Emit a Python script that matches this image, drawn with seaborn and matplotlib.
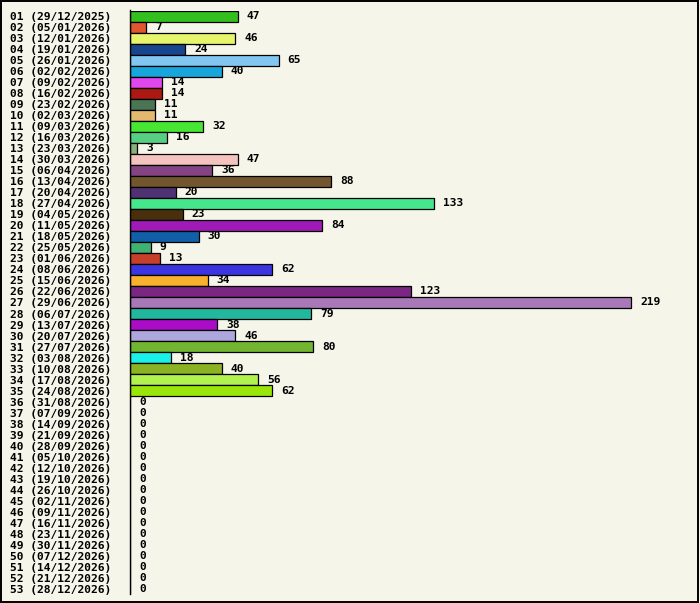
import matplotlib
matplotlib.use('Agg')
import matplotlib.pyplot as plt
import matplotlib.patches as mpatches
import seaborn as sns
import pandas as pd

# Week numbers and their starting dates
weeks = ['29/12/2025', '05/01/2026', '12/01/2026', '19/01/2026', '26/01/2026', '02/02/2026',
         '09/02/2026', '16/02/2026', '23/02/2026', '02/03/2026', '09/03/2026', '16/03/2026',
         '23/03/2026', '30/03/2026', '06/04/2026', '13/04/2026', '20/04/2026', '27/04/2026',
         '04/05/2026', '11/05/2026', '18/05/2026', '25/05/2026', '01/06/2026', '08/06/2026',
         '15/06/2026', '22/06/2026', '29/06/2026', '06/07/2026', '13/07/2026', '20/07/2026',
         '27/07/2026', '03/08/2026', '10/08/2026', '17/08/2026', '24/08/2026', '31/08/2026',
         '07/09/2026', '14/09/2026', '21/09/2026', '28/09/2026', '05/10/2026', '12/10/2026',
         '19/10/2026', '26/10/2026', '02/11/2026', '09/11/2026', '16/11/2026', '23/11/2026',
         '30/11/2026', '07/12/2026', '14/12/2026', '21/12/2026', '28/12/2026']
counts = [47, 7, 46, 24, 65, 40, 14, 14, 11, 11, 32, 16, 3, 47, 36, 88, 20, 133,
          23, 84, 30, 9, 13, 62, 34, 123, 219, 79, 38, 46, 80, 18, 40, 56, 62] + [0] * 18
bar_colors = ['#33c01f', '#e0562f', '#e6f56b', '#17468f', '#82c6f2', '#16a6dc',
              '#e048ee', '#ac1812', '#4a7555', '#e4b96d', '#46e632', '#56cf83',
              '#8aae7b', '#f4c3bd', '#844484', '#74562e', '#4f3274', '#45e68c',
              '#4a2f0c', '#a01ab7', '#115fa8', '#40b173', '#c53f2a', '#3c34e0',
              '#f8b02d', '#7b2682', '#a978b9', '#22b89e', '#ab0cc6', '#aea7de',
              '#71b531', '#19f0e8', '#8bb223', '#b2f250', '#9be60a'] + ['#888888'] * 18

labels = [f'{i + 1:02d} ({d})' for i, d in enumerate(weeks)]
df = pd.DataFrame({'label': labels, 'count': counts})

bg = '#f5f5ea'
W, H = 700, 603
fig = plt.figure(figsize=(W / 100, H / 100), dpi=100, facecolor=bg)
ax = fig.add_axes([130 / W, (H - 594.5) / H, 560 / W, 584 / H])
ax.set_facecolor(bg)

sns.barplot(data=df, x='count', y='label', hue='label', palette=bar_colors,
            saturation=1, legend=False, width=1.0, edgecolor='black',
            linewidth=0.9, ax=ax)

font = dict(family='DejaVu Sans Mono', weight='bold', size=8.1)
for cont in ax.containers:
    ax.bar_label(cont, padding=6.5, **font)

ax.set_xlim(0, 560 / 2.288)
ax.set_ylim(52.5, -0.5)
ax.set_xlabel('')
ax.set_ylabel('')
ax.set_xticks([])
for s in ['top', 'right', 'bottom']:
    ax.spines[s].set_visible(False)
ax.spines['left'].set_color('black')
ax.spines['left'].set_linewidth(1)
ax.tick_params(axis='y', length=0, pad=86.4)
for t in ax.get_yticklabels():
    t.set_ha('left')
    t.set_fontfamily('DejaVu Sans Mono')
    t.set_fontweight('bold')
    t.set_fontsize(8.1)

# black frame around the whole picture
fig.patches.append(mpatches.Rectangle((0.5 / W, 1.5 / H), 697.5 / W, 601 / H,
                                      transform=fig.transFigure, fill=False,
                                      edgecolor='black', linewidth=1.4))

fig.savefig('out.png', dpi=100, facecolor=bg)
